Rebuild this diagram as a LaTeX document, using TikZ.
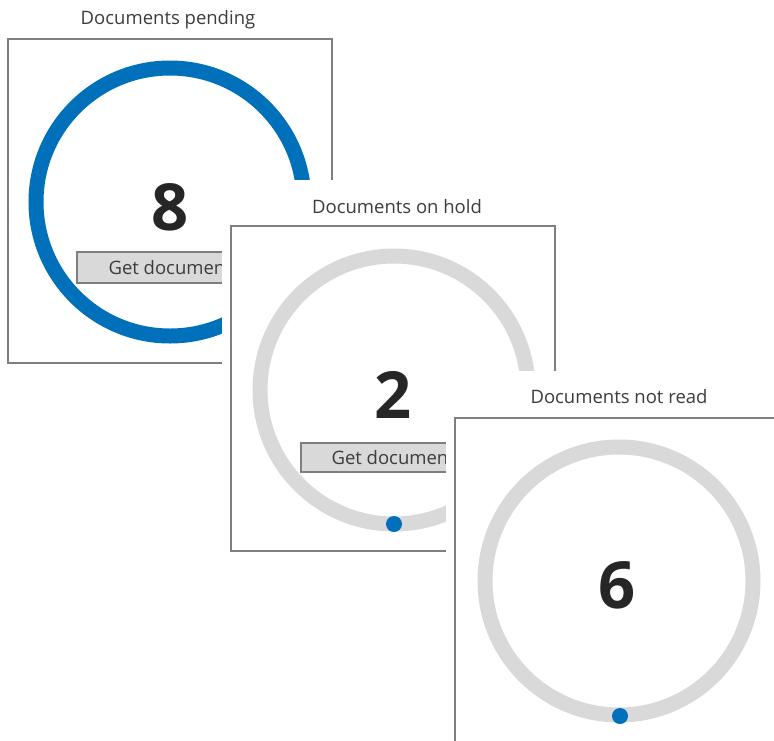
\documentclass[tikz,border=0pt]{standalone}
\usepackage{fontspec}
\setmainfont{Open Sans}
\usetikzlibrary{positioning}
\definecolor{ringblue}{RGB}{0,112,186}
\definecolor{ringgrey}{RGB}{217,217,217}
\definecolor{framegrey}{RGB}{127,127,127}
\definecolor{titlegrey}{RGB}{60,60,60}
\definecolor{numgrey}{RGB}{38,38,38}

\begin{document}
\begin{tikzpicture}[
  x=1pt, y=-1pt,
  panel/.style={draw=framegrey, line width=2.5pt, fill=white},
  gauge/.style={draw=ringgrey, line width=15pt},
  gaugeblue/.style={draw=ringblue, line width=15pt},
  marker/.style={fill=ringblue},
  paneltitle/.style={font=\fontsize{18.5}{22}\selectfont, text=titlegrey},
  bignum/.style={font=\bfseries\fontsize{65}{70}\selectfont, text=numgrey},
  getbtn/.style={draw=framegrey, line width=2pt, fill=ringgrey},
  btntext/.style={font=\fontsize{18.5}{22}\selectfont, text=titlegrey, anchor=west},
]
\useasboundingbox (0,0) rectangle (774,740);
\clip (0,0) rectangle (774,740);

% pending
\node[paneltitle] (tpend) at (168,20) {Documents pending};
\draw[panel] (8,39) rectangle (332,363);
\draw[gaugeblue] (170,202) circle (134);
\node[bignum] (npend) at (170,207) {8};
\draw[getbtn] (77,252) rectangle (263,283);
\node[btntext] (bpend) at (105,268) {Get documents};

% on hold
\fill[white] (222,180) rectangle (566,560);
\node[paneltitle] (thold) at (397,207) {Documents on hold};
\draw[panel] (231,226) rectangle (555,551);
\draw[gauge] (394,390) circle (134);
\fill[marker] (394,524) circle (8);
\node[bignum] (nhold) at (393,395) {2};
\draw[getbtn] (301,443) rectangle (487,472);
\node[btntext] (bhold) at (328,458) {Get documents};

% not read
\fill[white] (446,371) rectangle (780,750);
\node[paneltitle] (tread) at (619,397) {Documents not read};
\draw[panel] (455,418) rectangle (800,780);
\draw[gauge] (619,581) circle (134);
\fill[marker] (620,716) circle (8);
\node[bignum] (nread) at (617,585) {6};

\end{tikzpicture}
\end{document}
